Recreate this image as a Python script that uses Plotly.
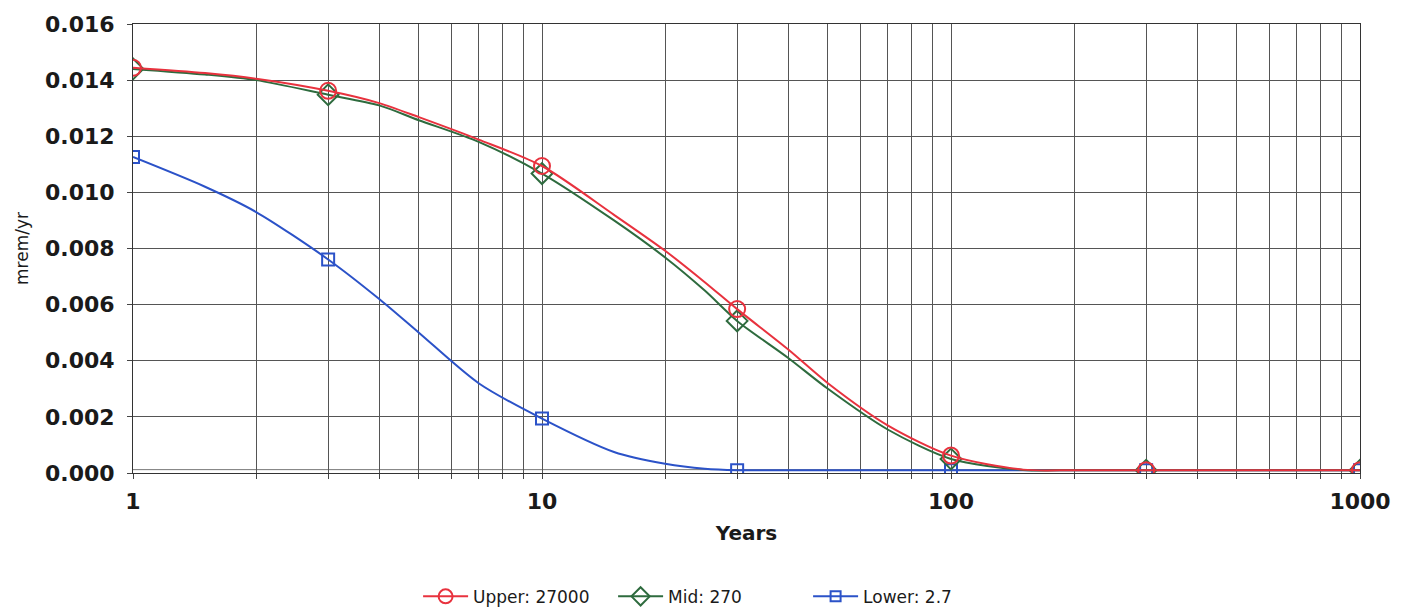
import plotly.graph_objects as go

# Dose rate (mrem/yr) versus time (years) for three source-term cases
years = [1, 1.5, 2, 3, 4, 5, 7, 10, 15, 20, 25, 30, 40, 50, 70, 100, 150, 200, 300, 500, 1000]
upper_dose = [0.01444, 0.01425, 0.01405, 0.01362, 0.01318, 0.01268, 0.01188, 0.01094, 0.00920,
              0.00792, 0.00680, 0.00584, 0.00440, 0.00320, 0.00170, 0.00062, 0.00012, 0.00010,
              0.00010, 0.00010, 0.00010]
mid_dose = [0.01440, 0.01420, 0.01400, 0.01348, 0.01310, 0.01257, 0.01180, 0.01067, 0.00900,
            0.00768, 0.00650, 0.00542, 0.00410, 0.00300, 0.00155, 0.00050, 0.00011, 0.00010,
            0.00010, 0.00010, 0.00010]
lower_dose = [0.01126, 0.01020, 0.00930, 0.00761, 0.00620, 0.00500, 0.00320, 0.00194, 0.00075,
              0.00033, 0.00015, 0.00010, 0.00010, 0.00010, 0.00010, 0.00010, 0.00010, 0.00010,
              0.00010, 0.00010, 0.00010]
marker_years = [1, 3, 10, 30, 100, 300, 1000]
series_names = ["Upper: 27000", "Mid: 270", "Lower: 2.7"]

floor_level = 0.00012
y_ticks = [0.000, 0.002, 0.004, 0.006, 0.008, 0.010, 0.012, 0.014, 0.016]
decades = [1, 10, 100, 1000]

x_gridvals = [m * 10 ** e for e in range(3) for m in range(1, 10)] + [1000]
x_ticktext = [str(v) if v in decades else "" for v in x_gridvals]

styles = {
    "Upper: 27000": dict(color="#E8323E", symbol="circle-open", size=16),
    "Mid: 270": dict(color="#2E6B3E", symbol="diamond-open", size=16),
    "Lower: 2.7": dict(color="#2B52C8", symbol="square-open", size=12),
}
values = {"Upper: 27000": upper_dose, "Mid: 270": mid_dose, "Lower: 2.7": lower_dose}

fig = go.Figure()

# draw lower first so the upper curve sits on top
for rank, name in reversed(list(enumerate(series_names))):
    st = styles[name]
    vals = values[name]
    fig.add_trace(go.Scatter(
        x=years, y=vals, mode="lines", showlegend=False, hoverinfo="skip",
        line=dict(color=st["color"], width=2, shape="spline", smoothing=0.8),
    ))
    mk_y = [vals[years.index(x)] for x in marker_years]
    fig.add_trace(go.Scatter(
        x=marker_years, y=mk_y, mode="markers", showlegend=False, name=name,
        marker=dict(symbol=st["symbol"], size=st["size"], color=st["color"],
                    line=dict(color=st["color"], width=2)),
    ))
    fig.add_trace(go.Scatter(
        x=[None], y=[None], mode="lines+markers", name=name, legendrank=rank + 1,
        line=dict(color=st["color"], width=2),
        marker=dict(symbol=st["symbol"], size=st["size"] - 2, color=st["color"],
                    line=dict(color=st["color"], width=2)),
    ))

grid_color = "#555555"

fig.add_shape(type="line", xref="paper", x0=0, x1=1, yref="y", y0=floor_level, y1=floor_level,
              line=dict(color="#777777", width=1), layer="below")

fig.update_xaxes(
    type="log", range=[0, 3],
    tickmode="array", tickvals=x_gridvals, ticktext=x_ticktext,
    showgrid=True, gridcolor=grid_color, gridwidth=1,
    showline=True, linecolor="#333333", linewidth=1, mirror=True,
    ticks="outside", ticklen=5, tickcolor="#444444",
    ticklabelstandoff=4,
    tickfont=dict(family="DejaVu Sans", size=22, color="#1a1a1a", weight="bold"),
    title=dict(text="Years", standoff=12,
               font=dict(family="DejaVu Sans", size=20, color="#1a1a1a", weight="bold")),
    zeroline=False,
)
fig.update_yaxes(
    range=[0, 0.016], tickmode="array", tickvals=y_ticks, tickformat=".3f",
    showgrid=True, gridcolor=grid_color, gridwidth=1,
    showline=True, linecolor="#333333", linewidth=1, mirror=True,
    ticks="outside", ticklen=5, tickcolor="#444444",
    ticklabelstandoff=8,
    tickfont=dict(family="DejaVu Sans", size=22, color="#1a1a1a", weight="bold"),
    title=dict(text="mrem/yr", standoff=12,
               font=dict(family="DejaVu Sans", size=17, color="#1a1a1a")),
    zeroline=False,
)

fig.update_layout(
    width=1403, height=609,
    margin=dict(l=133, r=37, t=21, b=136),
    paper_bgcolor="white", plot_bgcolor="white",
    showlegend=True,
    legend=dict(
        orientation="h", xref="container", yref="container",
        x=0.298, xanchor="left", y=0.02, yanchor="middle",
        itemwidth=45,
        entrywidth=135, entrywidthmode="pixels",
        font=dict(family="DejaVu Sans", size=17, color="#1a1a1a"),
        bgcolor="rgba(0,0,0,0)",
    ),
)

fig.write_html("out.html")
